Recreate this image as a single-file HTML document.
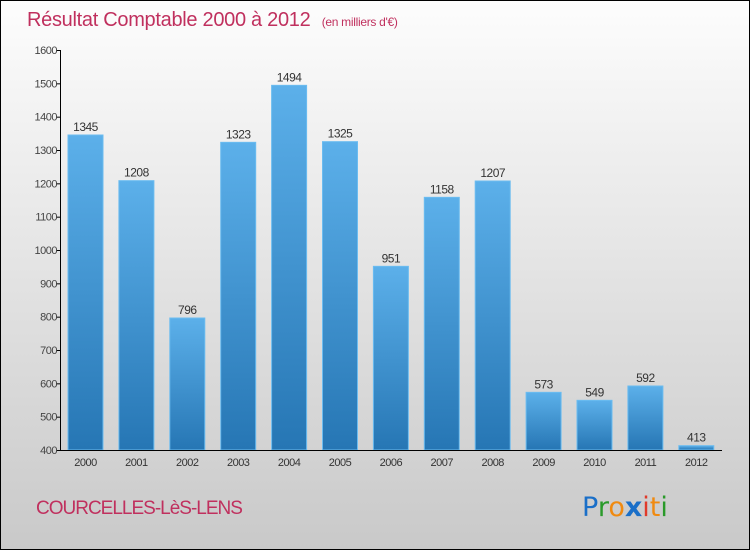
<!DOCTYPE html>
<html><head><meta charset="utf-8"><style>
html,body{margin:0;padding:0;}
body{width:750px;height:550px;overflow:hidden;font-family:"Liberation Sans",sans-serif;}
</style></head><body>
<svg id="chart" width="750" height="550" xmlns="http://www.w3.org/2000/svg">
<defs>
<linearGradient id="bg" x1="0" y1="0" x2="0" y2="1"><stop offset="0" stop-color="#fdfdfd"/><stop offset="1" stop-color="#c9c9c9"/></linearGradient>
<linearGradient id="bar" x1="0" y1="0" x2="0" y2="1"><stop offset="0" stop-color="#5cb0ea"/><stop offset="1" stop-color="#2676b4"/></linearGradient>
</defs>
<rect x="0.5" y="0.5" width="749" height="549" fill="url(#bg)" stroke="#000"/>
<text x="27" y="26" font-size="20" fill="#c0305e" letter-spacing="-0.3">Résultat Comptable 2000 à 2012 <tspan font-size="12" dx="6">(en milliers d'€)</tspan></text>
<g id="grid"></g>
<g id="bars"></g>
<line x1="60.5" y1="50" x2="60.5" y2="450.5" stroke="#000"/>
<line x1="60" y1="450.5" x2="722" y2="450.5" stroke="#000"/>
<text x="36" y="514" font-size="19" fill="#c0305e" letter-spacing="-1">COURCELLES-LèS-LENS</text>
<text x="582" y="516" font-size="27" font-family="'DejaVu Sans',sans-serif"><tspan fill="#1a6fc8">P</tspan><tspan fill="#2a9a2a">r</tspan><tspan fill="#f08a10">o</tspan><tspan fill="#1a6fc8" font-weight="bold">x</tspan><tspan fill="#e03a2a">i</tspan><tspan fill="#f08a10">t</tspan><tspan fill="#2a9a2a">i</tspan></text>
</svg>
<script>
const years=["2000","2001","2002","2003","2004","2005","2006","2007","2008","2009","2010","2011","2012"];
const values=[1345,1208,796,1323,1494,1325,951,1158,1207,573,549,592,413];
const yTicks=[400,500,600,700,800,900,1000,1100,1200,1300,1400,1500,1600];
const NS="http://www.w3.org/2000/svg";
function y(v){return 450-(v-400)*(400/1200);}
function xc(i){return 85.5+i*50.9;}
const g=document.getElementById('grid'), b=document.getElementById('bars');
function mk(t,a,p){const e=document.createElementNS(NS,t);for(const k in a)e.setAttribute(k,a[k]);p.appendChild(e);return e;}
yTicks.forEach(v=>{
  const t=mk('line',{x1:56,x2:61,y1:y(v)+0.5,y2:y(v)+0.5,stroke:'#000'},g);
  
  
  const l=mk('text',{x:57,y:y(v)+4,'font-size':11,'text-anchor':'end',fill:'#444','letter-spacing':'-0.5'},g);
  l.textContent=v;
  
  
});
values.forEach((v,i)=>{
  const r=mk('rect',{x:xc(i)-17.5,y:y(v),width:35,height:450-y(v),fill:'url(#bar)',stroke:'#6bbcf0','stroke-width':1},b);
  
  
  const vl=mk('text',{x:xc(i),y:y(v)-4,'font-size':12,'text-anchor':'middle',fill:'#333','letter-spacing':'-0.5'},b);
  vl.textContent=v;
  
  
  const xl=mk('text',{x:xc(i),y:466,'font-size':11,'text-anchor':'middle',fill:'#333','letter-spacing':'-0.5'},b);
  xl.textContent=years[i];
  
  
});
</script>
</body></html>
